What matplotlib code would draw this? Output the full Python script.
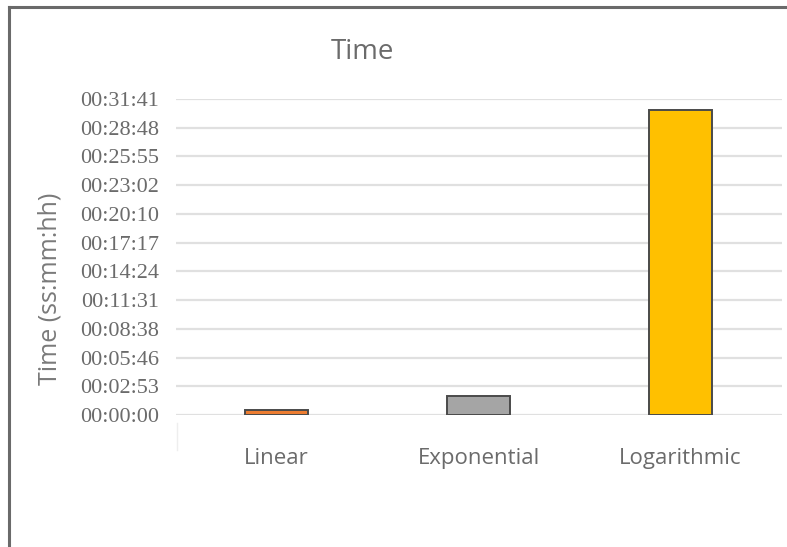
import matplotlib
matplotlib.use("Agg")
import matplotlib.pyplot as plt
from matplotlib.lines import Line2D

# Run time per regression model, in seconds
categories = ["Linear", "Exponential", "Logarithmic"]
times_s = [30, 114, 1836]
bar_colors = ["#ED7D31", "#A5A5A5", "#FFC000"]

# Axis ticks: steps of 0.002 day (172.8 s)
tick_step_s = 172.8
tick_labels = ["00:00:00", "00:02:53", "00:05:46", "00:08:38", "00:11:31",
               "00:14:24", "00:17:17", "00:20:10", "00:23:02", "00:25:55",
               "00:28:48", "00:31:41"]

text_gray = "#6b6b6b"
grid_gray = "#e0e0e0"

fig = plt.figure(figsize=(7.87, 5.47), dpi=100)
ax = fig.add_axes([175.5 / 787, 1 - 415 / 547, 606 / 787, 316 / 547])

x = list(range(len(categories)))
ax.bar(x, times_s, width=0.31, color=bar_colors, edgecolor="#4a4a4a",
       linewidth=1.4, zorder=3)

ticks = [i * tick_step_s for i in range(len(tick_labels))]
ax.set_ylim(0, ticks[-1])
ax.set_xlim(-0.5, len(categories) - 0.5)
ax.set_yticks(ticks)
ax.set_yticklabels(tick_labels, family="Liberation Serif", fontsize=16,
                   color=text_gray)
ax.set_xticks(x)
ax.set_xticklabels(categories, family="Open Sans", fontsize=16,
                   color=text_gray)
ax.tick_params(axis="y", length=0, pad=12)
ax.tick_params(axis="x", length=0, pad=24)
ax.grid(axis="y", color=grid_gray, linewidth=1.6, zorder=0)
ax.set_axisbelow(True)
for s in ax.spines.values():
    s.set_visible(False)

fig.text(50 / 787, 1 - 289 / 547, "Time (ss:mm:hh)", rotation=90,
         ha="center", va="center", family="Open Sans", fontsize=18,
         color="#7a7a7a")

fig.text(362 / 787, 1 - 52 / 547, "Time", ha="center", va="center",
         family="Open Sans", fontsize=20, color=text_gray)

# Faint category-axis mark under the plot's left edge
fig.add_artist(Line2D([177 / 787, 177 / 787], [1 - 423 / 547, 1 - 450 / 547],
                      color="#eeeeee", linewidth=1))

# Outer frame (top and left edges)
fig.add_artist(Line2D([8.5 / 787, 1.0], [1 - 6.5 / 547, 1 - 6.5 / 547],
                      color="#6a6a6a", linewidth=2.2))
fig.add_artist(Line2D([8.5 / 787, 8.5 / 787], [0, 1 - 6.5 / 547],
                      color="#6a6a6a", linewidth=2.2))

fig.savefig("out.png", dpi=100)
